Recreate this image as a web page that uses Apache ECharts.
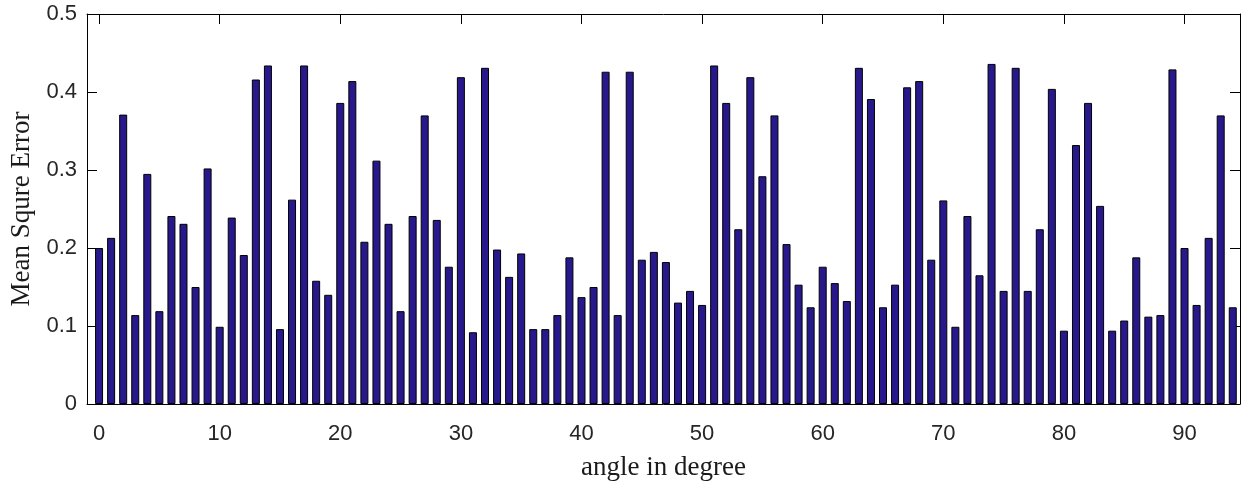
<!DOCTYPE html>
<html>
<head>
<meta charset="utf-8">
<script src="https://cdn.jsdelivr.net/npm/echarts@6/dist/echarts.min.js"></script>
<style>
html,body{margin:0;padding:0;background:#fff;}
#chart{width:1244px;height:486px;}
</style>
</head>
<body>
<div id="chart"></div>
<script>
// angles 0..94 degrees
const angles = [];
for (let i = 0; i <= 94; i++) angles.push(i);
const mseValues = [
  0.200, 0.213, 0.371, 0.114, 0.295, 0.119, 0.241, 0.231, 0.150, 0.302,
  0.099, 0.239, 0.191, 0.416, 0.434, 0.096, 0.262, 0.434, 0.158, 0.140,
  0.386, 0.414, 0.208, 0.312, 0.231, 0.119, 0.241, 0.370, 0.236, 0.176,
  0.419, 0.092, 0.431, 0.198, 0.163, 0.193, 0.096, 0.096, 0.114, 0.188,
  0.137, 0.150, 0.426, 0.114, 0.426, 0.185, 0.195, 0.182, 0.130, 0.145,
  0.127, 0.434, 0.386, 0.224, 0.419, 0.292, 0.370, 0.205, 0.153, 0.124,
  0.176, 0.155, 0.132, 0.431, 0.391, 0.124, 0.153, 0.406, 0.414, 0.185,
  0.261, 0.099, 0.241, 0.165, 0.436, 0.145, 0.431, 0.145, 0.224, 0.404,
  0.094, 0.332, 0.386, 0.254, 0.094, 0.107, 0.188, 0.112, 0.114, 0.429,
  0.200, 0.127, 0.213, 0.370, 0.124
];
const xTickValues = [0, 10, 20, 30, 40, 50, 60, 70, 80, 90];
const xLabel = 'angle in degree';
const yLabel = 'Mean Squre Error';

const seriesData = angles.map((a, i) => [a, mseValues[i]]);

const chart = echarts.init(document.getElementById('chart'), null, {renderer: 'canvas'});
const tickFont = {fontFamily: 'Liberation Sans, Arial, sans-serif', fontSize: 22, color: '#262626'};
const axisLine = {show: true, onZero: false, lineStyle: {color: '#000', width: 1}};
const yTick = {show: true, inside: true, length: 10, lineStyle: {color: '#000', width: 1}};
const xTick = {show: true, inside: true, length: 10, customValues: xTickValues, lineStyle: {color: '#000', width: 1}};

chart.setOption({
  animation: false,
  backgroundColor: '#fff',
  grid: {left: 87, right: 4, top: 14, bottom: 81, containLabel: false},
  xAxis: [{
    type: 'value', min: -1, max: 94.6,
    axisLine: axisLine, axisTick: xTick, splitLine: {show: false},
    axisLabel: Object.assign({margin: 19, customValues: xTickValues}, tickFont),
    name: xLabel, nameLocation: 'middle', nameGap: 50,
    nameTextStyle: {fontFamily: 'Liberation Serif, Times New Roman, serif', fontSize: 27, color: '#1a1a1a'}
  }, {
    type: 'value', position: 'top', min: -1, max: 94.6,
    axisLine: axisLine, axisTick: xTick, splitLine: {show: false},
    axisLabel: {show: false}
  }],
  yAxis: [{
    type: 'value', min: 0, max: 0.5, interval: 0.1,
    axisLine: axisLine, axisTick: yTick, splitLine: {show: false},
    axisLabel: Object.assign({margin: 10, formatter: v => v === 0 ? '0' : v.toFixed(1)}, tickFont),
    name: yLabel, nameLocation: 'middle', nameGap: 52,
    nameTextStyle: {fontFamily: 'Liberation Serif, Times New Roman, serif', fontSize: 27, color: '#1a1a1a'}
  }, {
    type: 'value', position: 'right', min: 0, max: 0.5, interval: 0.1,
    axisLine: axisLine, axisTick: yTick, splitLine: {show: false},
    axisLabel: {show: false}
  }],
  series: [{
    type: 'bar',
    xAxisIndex: 0, yAxisIndex: 0,
    data: seriesData,
    barWidth: 8,
    itemStyle: {color: '#27198c', borderColor: '#000', borderWidth: 1}
  }]
});
</script>
</body>
</html>
